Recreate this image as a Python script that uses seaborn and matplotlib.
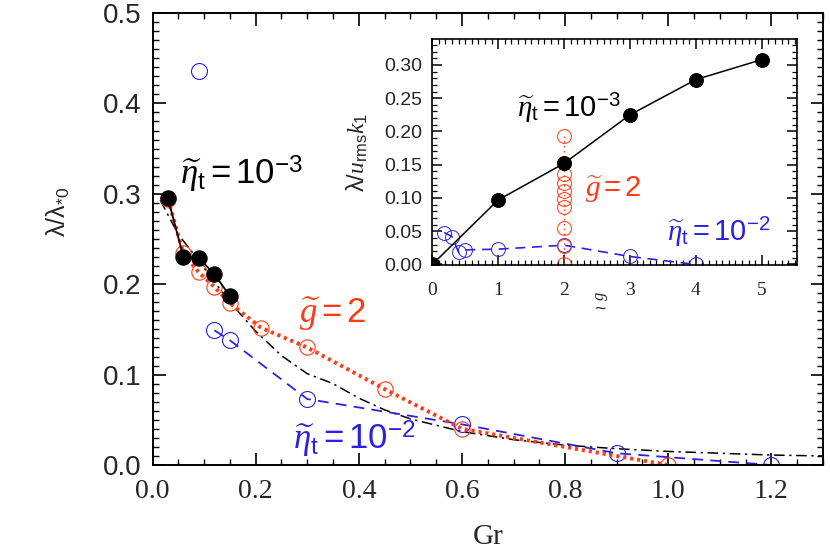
import matplotlib
matplotlib.use("Agg")
import matplotlib.pyplot as plt
import seaborn as sns
from matplotlib.ticker import MultipleLocator, FormatStrFormatter

# ---------------- data: main panel ----------------
gr_black = [0.03, 0.06, 0.09, 0.12, 0.15]
lam_black = [0.295, 0.230, 0.229, 0.211, 0.187]

gr_red = [0.03, 0.06, 0.09, 0.12, 0.15, 0.21, 0.30, 0.45, 0.60, 1.00]
lam_red = [0.294, 0.234, 0.213, 0.197, 0.179, 0.152, 0.130, 0.084, 0.040, 0.0]

gr_blue = [0.12, 0.15, 0.30, 0.60, 0.90, 1.20]
lam_blue = [0.149, 0.138, 0.073, 0.045, 0.013, 0.0]
gr_blue_out = [0.09]
lam_blue_out = [0.436]

gr_fit = [0.015, 0.05, 0.075, 0.10, 0.15, 0.20, 0.25, 0.30, 0.35, 0.40, 0.45,
          0.50, 0.60, 0.70, 0.80, 0.90, 1.00, 1.10, 1.20, 1.30]
lam_fit = [0.293, 0.255, 0.237, 0.218, 0.180, 0.148, 0.121, 0.101, 0.090, 0.074,
           0.061, 0.051, 0.037, 0.028, 0.022, 0.018, 0.015, 0.013, 0.011, 0.010]

main_xticks = [0.0, 0.2, 0.4, 0.6, 0.8, 1.0, 1.2]
main_yticks = [0.0, 0.1, 0.2, 0.3, 0.4, 0.5]

# ---------------- data: inset ----------------
g_black = [0, 1, 2, 3, 4, 5]
li_black = [0.0, 0.097, 0.152, 0.225, 0.278, 0.308]

g_red = [2, 2, 2, 2, 2, 2, 2, 2, 2, 2]
li_red = [0.193, 0.152, 0.136, 0.123, 0.111, 0.099, 0.087, 0.055, 0.028, 0.0]

g_blue = [0.18, 0.30, 0.40, 0.50, 1.0, 2.0, 3.0, 4.0]
li_blue = [0.048, 0.042, 0.018, 0.022, 0.023, 0.029, 0.012, 0.0]

inset_xticks = [0, 1, 2, 3, 4, 5]
inset_yticks = [0.00, 0.05, 0.10, 0.15, 0.20, 0.25, 0.30]

RED = "#ff3a14"
BLUE = "#2a22e0"

sns.set_theme(style="ticks")
plt.rcParams["font.family"] = ["Liberation Sans", "DejaVu Sans"]
plt.rcParams["mathtext.fontset"] = "custom"
plt.rcParams["mathtext.rm"] = "Liberation Sans"
plt.rcParams["mathtext.it"] = "Liberation Serif:italic"
plt.rcParams["mathtext.bf"] = "Liberation Sans:bold"

W, H = 830, 554
fig = plt.figure(figsize=(W / 100, H / 100), dpi=100)
fig.patch.set_facecolor("white")


def px_axes(l, r, t, b):
    return [l / W, 1 - b / H, (r - l) / W, (b - t) / H]


ax = fig.add_axes(px_axes(152.5, 823, 13, 465))
ax.set_facecolor("white")

common = dict(ax=ax, estimator=None, sort=False, legend=False)

sns.lineplot(x=gr_fit, y=lam_fit, color="black", lw=1.1,
             linestyle=(0, (7, 3, 1.5, 3)), **common)
sns.lineplot(x=gr_blue, y=lam_blue, color=BLUE, lw=1.3, linestyle=(0, (6, 4)),
             marker="o", markersize=11.5, markerfacecolor="none",
             markeredgecolor=BLUE, markeredgewidth=0.8, **common)
sns.lineplot(x=gr_blue_out, y=lam_blue_out, color=BLUE, lw=0,
             marker="o", markersize=11.5, markerfacecolor="none",
             markeredgecolor=BLUE, markeredgewidth=0.8, **common)
sns.lineplot(x=gr_red, y=lam_red, color=RED, lw=2.8, linestyle=(0, (0.8, 1.0)),
             marker="o", markersize=11, markerfacecolor="none",
             markeredgecolor=RED, markeredgewidth=0.8, **common)
sns.lineplot(x=gr_black, y=lam_black, color="black", lw=1.3,
             marker="o", markersize=11, markerfacecolor="black",
             markeredgecolor="black", markeredgewidth=0.8, **common)

ax.set_xlim(0, 1.3)
ax.set_ylim(0, 0.5)
ax.set_xticks(main_xticks)
ax.set_yticks(main_yticks)
ax.xaxis.set_minor_locator(MultipleLocator(0.05))
ax.yaxis.set_minor_locator(MultipleLocator(0.01))
ax.xaxis.set_major_formatter(FormatStrFormatter("%.1f"))
ax.yaxis.set_major_formatter(FormatStrFormatter("%.1f"))
ax.tick_params(which="both", direction="in", top=True, right=True, color="black")
ax.tick_params(which="major", length=9, width=1.2)
ax.tick_params(which="minor", length=4.5, width=1.0)
ax.tick_params(axis="x", which="major", pad=10, labelsize=20)
ax.tick_params(axis="y", which="major", pad=8, labelsize=20)
for lab in ax.get_xticklabels():
    lab.set_fontfamily("Liberation Serif")
for sp in ax.spines.values():
    sp.set_linewidth(1.4)
    sp.set_color("black")

ax.set_xlabel("Gr", fontsize=21, family="Liberation Serif")
ax.xaxis.set_label_coords(0.5, -0.13)
ax.set_ylabel(r"$\mathrm{\lambda/\lambda_{*0}}$", fontsize=18)
ax.yaxis.set_label_coords(-0.12, 0.56)

ax.text(0.053, 0.321, r"$\widetilde{\eta}_{\mathrm{t}}=10^{-3}$", fontsize=25,
        color="black", ha="left", va="center")
ax.text(0.285, 0.167, r"$\widetilde{g}=2$", fontsize=25, color=RED,
        ha="left", va="center")
ax.text(0.272, 0.028, r"$\widetilde{\eta}_{\mathrm{t}}=10^{-2}$", fontsize=25,
        color=BLUE, ha="left", va="center")

# ---------------- inset ----------------
ai = fig.add_axes(px_axes(432.3, 796.7, 39, 265))
ai.set_facecolor("white")
ic = dict(ax=ai, estimator=None, sort=False, legend=False)

sns.lineplot(x=g_blue, y=li_blue, color=BLUE, lw=1.2, linestyle=(0, (6, 4)),
             marker="o", markersize=10, markerfacecolor="none",
             markeredgecolor=BLUE, markeredgewidth=0.7, **ic)
sns.lineplot(x=g_red, y=li_red, color=RED, lw=1.0, linestyle=(0, (1, 2.5)),
             marker="o", markersize=10, markerfacecolor="none",
             markeredgecolor=RED, markeredgewidth=0.7, orient="y", **ic)
sns.lineplot(x=g_black, y=li_black, color="black", lw=1.1,
             marker="o", markersize=10, markerfacecolor="black",
             markeredgecolor="black", markeredgewidth=0.7, **ic)

ai.set_xlim(0, 5.53)
ai.set_ylim(-0.0008, 0.339)
ai.set_xticks(inset_xticks)
ai.set_yticks(inset_yticks)
ai.xaxis.set_minor_locator(MultipleLocator(0.1))
ai.yaxis.set_minor_locator(MultipleLocator(0.01))
ai.yaxis.set_major_formatter(FormatStrFormatter("%.2f"))
ai.tick_params(which="both", direction="in", top=True, right=True, color="black")
ai.tick_params(which="major", length=7, width=1.1)
ai.tick_params(which="minor", length=3.5, width=0.9)
ai.tick_params(axis="x", which="major", pad=12, labelsize=14)
ai.tick_params(axis="y", which="major", pad=7, labelsize=14)
for lab in ai.get_xticklabels():
    lab.set_fontfamily("Liberation Serif")
for sp in ai.spines.values():
    sp.set_linewidth(1.2)
    sp.set_color("black")

ai.set_ylabel(r"$\mathrm{\lambda/}u_{\mathrm{rms}}k_1$", fontsize=17)
ai.yaxis.set_label_coords(-0.17, 0.50)
ai.text(0.46, -0.135, "g", rotation=90, fontsize=12, family="Liberation Serif",
        style="italic", ha="center", va="center", transform=ai.transAxes)
ai.text(0.46, -0.195, "~", fontsize=14, ha="center", va="center",
        transform=ai.transAxes)

ai.text(1.28, 0.235, r"$\widetilde{\eta}_{\mathrm{t}}=10^{-3}$", fontsize=21,
        color="black", ha="left", va="center")
ai.text(2.32, 0.112, r"$\widetilde{g}=2$", fontsize=21, color=RED,
        ha="left", va="center")
ai.text(3.56, 0.049, r"$\widetilde{\eta}_{\mathrm{t}}=10^{-2}$", fontsize=21,
        color=BLUE, ha="left", va="center")

fig.savefig("out.png", dpi=100, facecolor="white")
